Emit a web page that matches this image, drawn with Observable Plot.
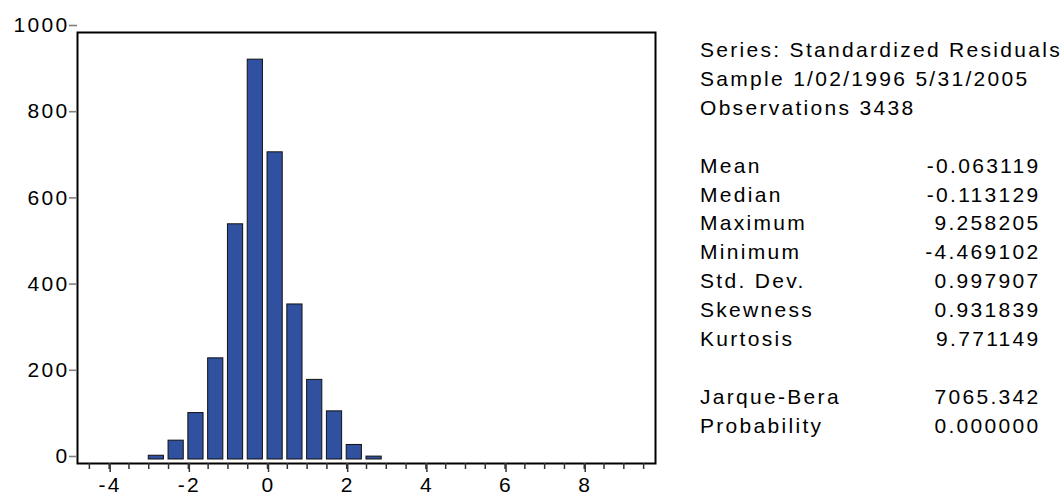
<!DOCTYPE html>
<html>
<head>
<meta charset="utf-8">
<script src="https://cdn.jsdelivr.net/npm/d3@7"></script>
<script src="https://cdn.jsdelivr.net/npm/@observablehq/plot@0.6"></script>
<style>
  html, body { margin: 0; padding: 0; background: #fff; }
  #wrap { position: relative; width: 1062px; height: 497px; overflow: hidden; }
  #chart { position: absolute; left: 0; top: 0; }
  #chart svg text { letter-spacing: 2.3px; }
  #stats {
    position: absolute; left: 700px; top: 36px; width: 340.5px;
    font-family: "Liberation Sans", Arial, sans-serif; font-size: 21px;
    line-height: 28.9px; color: #000; letter-spacing: 2.3px;
  }
  #stats .row { display: flex; justify-content: space-between; white-space: nowrap; }
  #stats .blank { height: 28.9px; }
</style>
</head>
<body>
<div id="wrap">
  <div id="chart"></div>
  <div id="stats"></div>
</div>
<script>
// Histogram of standardized residuals: bins of width 0.5
const binStarts = [-3, -2.5, -2, -1.5, -1, -0.5, 0, 0.5, 1, 1.5, 2, 2.5];
const binWidth = 0.5;
const counts = [18, 53, 117, 244, 555, 937, 722, 369, 194, 121, 43, 16];

// Axis ticks
const xMajorTicks = [-4, -2, 0, 2, 4, 6, 8];
const xMinorTicks = [-4.5, -4, -3.5, -3, -2.5, -2, -1.5, -1, -0.5, 0, 0.5, 1, 1.5, 2, 2.5, 3, 3.5, 4, 4.5, 5, 5.5, 6, 6.5, 7, 7.5, 8, 8.5, 9, 9.5];
const yTicks = [0, 200, 400, 600, 800, 1000];

// Summary statistics panel
const headerLines = ["Series: Standardized Residuals", "Sample 1/02/1996 5/31/2005", "Observations 3438"];
const statLabels = ["Mean", "Median", "Maximum", "Minimum", "Std. Dev.", "Skewness", "Kurtosis"];
const statValues = ["-0.063119", "-0.113129", "9.258205", "-4.469102", "0.997907", "0.931839", "9.771149"];
const testLabels = ["Jarque-Bera", "Probability"];
const testValues = ["7065.342", "0.000000"];

const bins = binStarts.map((lo, i) => ({lo, hi: lo + binWidth, count: counts[i]}));

const chart = Plot.plot({
  width: 670,
  height: 497,
  marginLeft: 77,
  marginRight: 15,
  marginTop: 32,
  marginBottom: 34,
  style: {fontFamily: "'Liberation Sans', Arial, sans-serif", fontSize: "21px", color: "#000", background: "#fff", overflow: "visible"},
  x: {domain: [-4.8, 9.8]},
  y: {domain: [0, 1000]},
  marks: [
    Plot.rectY(bins, {
      x1: "lo", x2: "hi", y: "count",
      fill: "#3050a0", stroke: "#111", strokeWidth: 1,
      insetRight: 4.6, insetBottom: 4
    }),
    Plot.frame({stroke: "#000", strokeWidth: 2}),
    Plot.axisY(yTicks, {
      tickSize: 8, tickPadding: 0, stroke: "#808080", strokeWidth: 1.6,
      tickFormat: d => String(d), dy: -7, fill: "#000", label: null
    }),
    Plot.axisX(xMinorTicks, {
      tickSize: 6, stroke: "#333", strokeWidth: 1.5,
      tickFormat: () => "", label: null
    }),
    Plot.axisX(xMajorTicks, {
      tickSize: 9, tickPadding: 5, stroke: "#333", strokeWidth: 1.5,
      tickFormat: d => String(d), fill: "#000", dx: 1, label: null
    })
  ]
});
document.getElementById("chart").append(chart);

// Statistics panel
const panel = document.getElementById("stats");
function addRow(left, right) {
  const row = document.createElement("div");
  row.className = "row";
  const a = document.createElement("span");
  a.textContent = left;
  row.append(a);
  if (right !== undefined) {
    const b = document.createElement("span");
    b.textContent = right;
    row.append(b);
  }
  panel.append(row);
}
function addBlank() {
  const d = document.createElement("div");
  d.className = "blank";
  panel.append(d);
}
headerLines.forEach(t => addRow(t));
addBlank();
statLabels.forEach((t, i) => addRow(t, statValues[i]));
addBlank();
testLabels.forEach((t, i) => addRow(t, testValues[i]));
</script>
</body>
</html>
